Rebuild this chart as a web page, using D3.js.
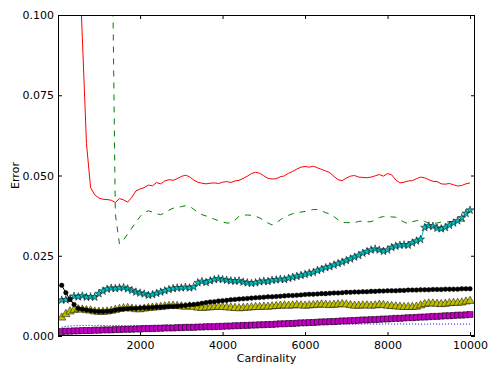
<!DOCTYPE html>
<html>
<head>
<meta charset="utf-8">
<script src="https://d3js.org/d3.v7.min.js"></script>
<style>
  body { margin: 0; background: #fff; }
  svg text { font-family: "DejaVu Sans", sans-serif; font-size: 11px; fill: #000; }
</style>
</head>
<body>
<div id="chart"></div>
<script>
const WIDTH = 491, HEIGHT = 371,
  margin = { top: 15, right: 16, bottom: 35, left: 58 };

// x positions of the samples (cardinality)
const cardinality = d3.range(100, 10001, 100),
  redX = d3.range(500, 10001, 100),
  greenX = d3.range(1300, 10001, 100);

const xTicks = [2000, 4000, 6000, 8000, 10000],
  yTicks = [0, 0.025, 0.05, 0.075, 0.1];

// red solid line
const redErr = [
  0.125, 0.093, 0.060, 0.0462, 0.0440, 0.0430, 0.0426, 0.0425, 0.0423, 0.0416,
  0.0428, 0.0424, 0.0417, 0.0432, 0.0452, 0.0458, 0.0462, 0.0470, 0.0468, 0.0478,
  0.0474, 0.0483, 0.0487, 0.0485, 0.0490, 0.0497, 0.0501, 0.0496, 0.0486, 0.0479,
  0.0476, 0.0474, 0.0476, 0.0477, 0.0475, 0.0479, 0.0481, 0.0478, 0.0483, 0.0485,
  0.0491, 0.0498, 0.0506, 0.0510, 0.0507, 0.0499, 0.0491, 0.0489, 0.0490, 0.0496,
  0.0499, 0.0507, 0.0513, 0.0520, 0.0526, 0.0528, 0.0526, 0.0529, 0.0524, 0.0519,
  0.0514, 0.0509, 0.0497, 0.0487, 0.0484, 0.0492, 0.0498, 0.0500, 0.0495, 0.0494,
  0.0493, 0.0495, 0.0499, 0.0503, 0.0498, 0.0506, 0.0502, 0.0486, 0.0477, 0.0479,
  0.0483, 0.0484, 0.0490, 0.0495, 0.0493, 0.0487, 0.0482, 0.0481, 0.0474, 0.0473,
  0.0475, 0.0471, 0.0467, 0.0469, 0.0474, 0.0477
];

// green dashed line
const greenErr = [
  0.150, 0.038, 0.0287, 0.0300, 0.0318, 0.0336, 0.0355, 0.0372, 0.0385, 0.0390,
  0.0386, 0.0381, 0.0378, 0.0384, 0.0392, 0.0398, 0.0401, 0.0403, 0.0406, 0.0404,
  0.0395, 0.0385, 0.0378, 0.0374, 0.0369, 0.0364, 0.0359, 0.0355, 0.0352, 0.0352,
  0.0361, 0.0373, 0.0376, 0.0377, 0.0376, 0.0373, 0.0368, 0.0360, 0.0352, 0.0346,
  0.0352, 0.0362, 0.0370, 0.0376, 0.0381, 0.0384, 0.0386, 0.0388, 0.0391, 0.0394,
  0.0394, 0.0390, 0.0384, 0.0381, 0.0372, 0.0362, 0.0354, 0.0353, 0.0353, 0.0353,
  0.0357, 0.0358, 0.0356, 0.0356, 0.0362, 0.0369, 0.0372, 0.0372, 0.0371, 0.0370,
  0.0362, 0.0355, 0.0350, 0.0356, 0.0359, 0.0363, 0.0357, 0.0351, 0.0350, 0.0352,
  0.0355, 0.0355, 0.0356, 0.0357, 0.0357, 0.0358, 0.0358, 0.0359
];

// black circles
const circleErr = [
  0.0158, 0.0135, 0.0114, 0.0098, 0.0086, 0.0083, 0.0081, 0.0079, 0.0077, 0.0076,
  0.0076, 0.0077, 0.0078, 0.0081, 0.0083, 0.0084, 0.0085, 0.0086, 0.0086, 0.0087,
  0.0088, 0.0088, 0.0089, 0.0090, 0.0090, 0.0091, 0.0092, 0.0092, 0.0093, 0.0094,
  0.0095, 0.0097, 0.0098, 0.0100, 0.0102, 0.0104, 0.0106, 0.0107, 0.0109, 0.0110,
  0.0111, 0.0113, 0.0114, 0.0115, 0.0116, 0.0117, 0.0118, 0.0119, 0.0120, 0.0121,
  0.0122, 0.0122, 0.0123, 0.0124, 0.0125, 0.0126, 0.0126, 0.0127, 0.0128, 0.0129,
  0.0130, 0.0130, 0.0131, 0.0132, 0.0132, 0.0133, 0.0134, 0.0134, 0.0135, 0.0136,
  0.0136, 0.0137, 0.0137, 0.0138, 0.0138, 0.0139, 0.0139, 0.0140, 0.0140, 0.0141,
  0.0141, 0.0141, 0.0142, 0.0142, 0.0143, 0.0143, 0.0143, 0.0144, 0.0144, 0.0144,
  0.0145, 0.0145, 0.0145, 0.0146, 0.0146, 0.0146, 0.0146, 0.0147, 0.0147, 0.0147
];

// cyan stars
const starErr = [
  0.0112, 0.0113, 0.0115, 0.0124, 0.0122, 0.0125, 0.0121, 0.0122, 0.0121, 0.0132,
  0.0140, 0.0146, 0.0149, 0.0148, 0.0150, 0.0151, 0.0147, 0.0142, 0.0137, 0.0134,
  0.0131, 0.0127, 0.0129, 0.0133, 0.0137, 0.0141, 0.0145, 0.0148, 0.0150, 0.0150,
  0.0152, 0.0150, 0.0153, 0.0166, 0.0170, 0.0167, 0.0172, 0.0176, 0.0178, 0.0176,
  0.0174, 0.0172, 0.0171, 0.0172, 0.0168, 0.0166, 0.0164, 0.0166, 0.0169, 0.0171,
  0.0170, 0.0174, 0.0175, 0.0177, 0.0176, 0.0180, 0.0183, 0.0186, 0.0189, 0.0192,
  0.0196, 0.0198, 0.0204, 0.0208, 0.0213, 0.0216, 0.0221, 0.0226, 0.0230, 0.0235,
  0.0240, 0.0246, 0.0251, 0.0258, 0.0263, 0.0268, 0.0271, 0.0268, 0.0264, 0.0268,
  0.0276, 0.0280, 0.0283, 0.0284, 0.0283, 0.0290, 0.0296, 0.0301, 0.0338, 0.0343,
  0.0342, 0.0336, 0.0334, 0.0338, 0.0345, 0.0352, 0.0359, 0.0368, 0.0382, 0.0392
];

// yellow triangles
const triErr = [
  0.0057, 0.0068, 0.0076, 0.0081, 0.0083, 0.0082, 0.0080, 0.0079, 0.0076, 0.0075,
  0.0075, 0.0076, 0.0078, 0.0081, 0.0084, 0.0086, 0.0087, 0.0085, 0.0083, 0.0083,
  0.0085, 0.0087, 0.0088, 0.0089, 0.0090, 0.0092, 0.0093, 0.0094, 0.0093, 0.0092,
  0.0091, 0.0092, 0.0091, 0.0088, 0.0087, 0.0088, 0.0089, 0.0090, 0.0091, 0.0090,
  0.0089, 0.0088, 0.0087, 0.0086, 0.0087, 0.0088, 0.0089, 0.0090, 0.0090, 0.0091,
  0.0091, 0.0092, 0.0093, 0.0094, 0.0095, 0.0094, 0.0095, 0.0096, 0.0095, 0.0094,
  0.0095, 0.0096, 0.0097, 0.0098, 0.0097, 0.0096, 0.0097, 0.0098, 0.0099, 0.0098,
  0.0096, 0.0094, 0.0094, 0.0095, 0.0095, 0.0094, 0.0095, 0.0097, 0.0096, 0.0094,
  0.0093, 0.0092, 0.0091, 0.0090, 0.0090, 0.0090, 0.0091, 0.0095, 0.0099, 0.0101,
  0.0101, 0.0100, 0.0099, 0.0100, 0.0102, 0.0103, 0.0103, 0.0104, 0.0107, 0.0109
];

// magenta squares
const squareErr = [
  0.0014, 0.0015, 0.0015, 0.0016, 0.0016, 0.0017, 0.0017, 0.0017, 0.0018, 0.0018,
  0.0019, 0.0019, 0.0019, 0.0020, 0.0020, 0.0021, 0.0021, 0.0021, 0.0022, 0.0022,
  0.0023, 0.0023, 0.0023, 0.0024, 0.0024, 0.0025, 0.0025, 0.0025, 0.0026, 0.0026,
  0.0027, 0.0027, 0.0027, 0.0028, 0.0028, 0.0029, 0.0029, 0.0029, 0.0030, 0.0030,
  0.0031, 0.0031, 0.0032, 0.0032, 0.0033, 0.0033, 0.0034, 0.0034, 0.0035, 0.0035,
  0.0036, 0.0036, 0.0037, 0.0038, 0.0038, 0.0039, 0.0039, 0.0040, 0.0041, 0.0041,
  0.0042, 0.0042, 0.0043, 0.0044, 0.0044, 0.0045, 0.0045, 0.0046, 0.0047, 0.0047,
  0.0048, 0.0048, 0.0049, 0.0050, 0.0050, 0.0051, 0.0051, 0.0052, 0.0053, 0.0053,
  0.0054, 0.0055, 0.0055, 0.0056, 0.0057, 0.0057, 0.0058, 0.0059, 0.0059, 0.0060,
  0.0061, 0.0061, 0.0062, 0.0063, 0.0063, 0.0064, 0.0065, 0.0065, 0.0066, 0.0067
];

// blue dotted line
const blueErr = [
  0.0027, 0.0030, 0.0031, 0.0032, 0.0032, 0.0033, 0.0033, 0.0033, 0.0032, 0.0033,
  0.0033, 0.0032, 0.0032, 0.0033, 0.0033, 0.0032, 0.0032, 0.0033, 0.0033, 0.0033,
  0.0033, 0.0033, 0.0034, 0.0033, 0.0033, 0.0034, 0.0034, 0.0033, 0.0034, 0.0034,
  0.0034, 0.0034, 0.0034, 0.0035, 0.0034, 0.0034, 0.0035, 0.0035, 0.0034, 0.0035,
  0.0035, 0.0035, 0.0035, 0.0035, 0.0036, 0.0035, 0.0035, 0.0036, 0.0036, 0.0035,
  0.0036, 0.0036, 0.0036, 0.0036, 0.0036, 0.0037, 0.0036, 0.0036, 0.0037, 0.0037,
  0.0036, 0.0037, 0.0037, 0.0037, 0.0037, 0.0037, 0.0036, 0.0037, 0.0037, 0.0037,
  0.0037, 0.0037, 0.0037, 0.0037, 0.0038, 0.0037, 0.0037, 0.0037, 0.0037, 0.0038,
  0.0037, 0.0037, 0.0038, 0.0037, 0.0037, 0.0038, 0.0037, 0.0037, 0.0037, 0.0037,
  0.0038, 0.0037, 0.0037, 0.0037, 0.0038, 0.0037, 0.0037, 0.0037, 0.0037, 0.0037
];

const svg = d3.select("#chart").append("svg")
  .attr("width", WIDTH)
  .attr("height", HEIGHT);

const x = d3.scaleLinear().domain([10, 10120]).range([margin.left, WIDTH - margin.right]),
  y = d3.scaleLinear().domain([0, 0.1]).range([HEIGHT - margin.bottom, margin.top]);

const plotW = WIDTH - margin.right - margin.left,
  plotH = HEIGHT - margin.bottom - margin.top;

svg.append("defs").append("clipPath").attr("id", "plot-clip")
  .append("rect")
  .attr("x", margin.left).attr("y", margin.top)
  .attr("width", plotW).attr("height", plotH);

const plot = svg.append("g").attr("clip-path", "url(#plot-clip)");

function zip(xs, ys) {
  return xs.map((d, i) => [d, ys[i]]);
}

const line = d3.line().x(d => x(d[0])).y(d => y(d[1]));

function drawLine(data, color, dash) {
  plot.append("path")
    .datum(data)
    .attr("fill", "none")
    .attr("stroke", color)
    .attr("stroke-width", 1)
    .attr("stroke-dasharray", dash || null)
    .attr("d", line);
}

function drawMarkers(data, symbol, size, fill) {
  plot.append("g")
    .selectAll("path")
    .data(data)
    .enter()
    .append("path")
    .attr("transform", d => `translate(${x(d[0])},${y(d[1])})`)
    .attr("d", d3.symbol().type(symbol).size(size))
    .attr("fill", fill)
    .attr("stroke", "#000")
    .attr("stroke-width", 0.5);
}

// lines without markers
drawLine(zip(redX, redErr), "#ff0000");
drawLine(zip(greenX, greenErr), "#008000", "6,6");
drawLine(zip(cardinality, blueErr), "#0000ff", "1,2");

// marker series
const squares = zip(cardinality, squareErr),
  tris = zip(cardinality, triErr),
  stars = zip(cardinality, starErr),
  circles = zip(cardinality, circleErr);

drawLine(squares, "#bf00bf");
drawMarkers(squares, d3.symbolSquare, 36, "#bf00bf");
drawLine(tris, "#bfbf00");
drawMarkers(tris, d3.symbolTriangle, 30, "#bfbf00");
drawLine(stars, "#00bfbf");
drawMarkers(stars, d3.symbolStar, 20, "#00bfbf");
drawLine(circles, "#000");
drawMarkers(circles, d3.symbolCircle, 16, "#000");

// frame
svg.append("rect")
  .attr("x", margin.left + 0.5).attr("y", margin.top + 0.5)
  .attr("width", plotW - 1).attr("height", plotH - 1)
  .attr("fill", "none")
  .attr("stroke", "#000")
  .attr("stroke-width", 1);

// axes with inward ticks
const xAxis = svg.append("g")
  .attr("transform", `translate(0,${HEIGHT - margin.bottom})`)
  .call(d3.axisBottom(x).tickValues(xTicks).tickSize(-4).tickPadding(5).tickFormat(d3.format("d")));
const xTop = svg.append("g")
  .attr("transform", `translate(0,${margin.top})`)
  .call(d3.axisTop(x).tickValues(xTicks).tickSize(-4).tickFormat(""));
const yAxis = svg.append("g")
  .attr("transform", `translate(${margin.left},0)`)
  .call(d3.axisLeft(y).tickValues(yTicks).tickSize(-4).tickPadding(4).tickFormat(d3.format(".3f")));
const yRight = svg.append("g")
  .attr("transform", `translate(${WIDTH - margin.right},0)`)
  .call(d3.axisRight(y).tickValues(yTicks).tickSize(-4).tickFormat(""));

[xAxis, xTop, yAxis, yRight].forEach(a => {
  a.select(".domain").remove();
  a.selectAll("line").attr("stroke", "#000");
  a.selectAll("text").attr("font-family", "DejaVu Sans").attr("font-size", 11);
});

svg.append("text")
  .attr("x", margin.left + plotW / 2)
  .attr("y", 362)
  .attr("text-anchor", "middle")
  .text("Cardinality");

svg.append("text")
  .attr("transform", `translate(19,${margin.top + plotH / 2}) rotate(-90)`)
  .attr("text-anchor", "middle")
  .text("Error");
</script>
</body>
</html>
